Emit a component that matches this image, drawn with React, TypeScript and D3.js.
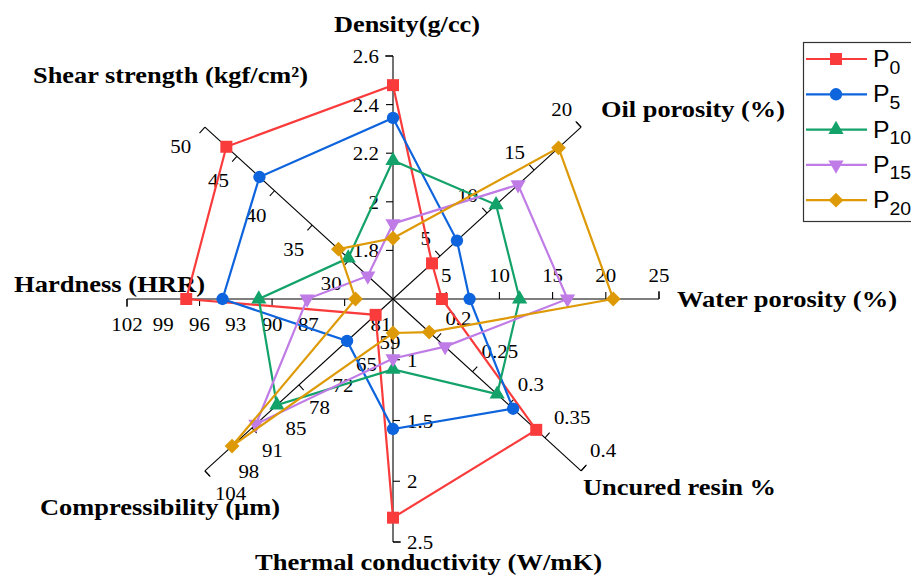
import React from 'react';
import * as d3 from 'd3';

// ---- data (order of series: P0, P5, P10, P15, P20) ----
const seriesSubs = ['0', '5', '10', '15', '20'];
const seriesColors = ['#F93B3B', '#0E64DC', '#13A26A', '#C07CE6', '#DE9A06'];
const seriesShapes = ['square', 'circle', 'triUp', 'triDown', 'diamond'];

const density = [2.48, 2.345, 2.17, 1.91, 1.85];
const oilPorosity = [4.15, 6.8, 10.96, 13.3, 17.6];
const waterPorosity = [4.6, 7.2, 11.9, 16.4, 20.7];
const uncuredResin = [0.338, 0.306, 0.284, 0.212, 0.19];
const thermalConductivity = [2.3, 1.57, 1.08, 0.99, 0.78];
const compressibility = [56.8, 64.7, 84.1, 89.9, 96.5];
const hardness = [97.1, 94.1, 91.1, 87.1, 83.1];
const shearStrength = [46.4, 42.0, 30.2, 27.6, 31.5];

const axisTitles = [
  'Density(g/cc)',
  'Oil porosity (%)',
  'Water porosity (%)',
  'Uncured resin %',
  'Thermal conductivity (W/mK)',
  'Compressibility (µm)',
  'Hardness (HRR)',
  'Shear strength (kgf/cm²)',
];
const axisDomains: [number, number][] = [
  [1.6, 2.6], [0, 20], [0, 25], [0.14, 0.4], [0.5, 2.5], [52, 104], [80, 102], [24.25, 49.25],
];
const axisTicks = [
  [1.8, 2, 2.2, 2.4, 2.6],
  [5, 10, 15, 20],
  [5, 10, 15, 20, 25],
  [0.2, 0.25, 0.3, 0.35, 0.4],
  [1, 1.5, 2, 2.5],
  [65, 78, 91, 104],
  [84, 90, 96, 102],
  [30, 35, 40, 45],
];
const labelValues = [
  [1.8, 2, 2.2, 2.4, 2.6],
  [5, 10, 15, 20],
  [5, 10, 15, 20, 25],
  [0.2, 0.25, 0.3, 0.35, 0.4],
  [1, 1.5, 2, 2.5],
  [58.5, 65, 71.5, 78, 84.5, 91, 97.5, 104],
  [81, 87, 90, 93, 96, 99, 102],
  [30, 35, 40, 45, 50],
];
const labelTexts = [
  ['1.8', '2', '2.2', '2.4', '2.6'],
  ['5', '10', '15', '20'],
  ['5', '10', '15', '20', '25'],
  ['0.2', '0.25', '0.3', '0.35', '0.4'],
  ['1', '1.5', '2', '2.5'],
  ['59', '65', '72', '78', '85', '91', '98', '104'],
  ['81', '87', '90', '93', '96', '99', '102'],
  ['30', '35', '40', '45', '50'],
];

// ---- layout ----
const W = 911, H = 576;
const cx = 393, cy = 299, rx = 266, ry = 243;
const angles = [-90, -45, 0, 45, 90, 135, 180, -135];
const titlePos = [
  { x: 334, y: 32, w: 146 },
  { x: 601, y: 117, w: 184 },
  { x: 677, y: 307, w: 220 },
  { x: 583, y: 495, w: 193 },
  { x: 255, y: 570, w: 347 },
  { x: 40, y: 515, w: 240 },
  { x: 14, y: 292, w: 191 },
  { x: 33, y: 83, w: 275 },
];
// label placement per axis: anchor, dx, dy
const labelPlace: [string, number, number][] = [
  ['end', -14, 7],
  ['end', -9, -11],
  ['middle', 0, -17],
  ['start', 9, -14],
  ['start', 14, 7],
  ['start', 10, 29],
  ['middle', 0, 32],
  ['end', -8, 31],
];

const serif = '"Liberation Serif", "Times New Roman", serif';
const sans = '"Liberation Sans", Arial, sans-serif';

const scales = axisDomains.map((d) => d3.scaleLinear().domain(d).range([0, 1]));
const dirs = angles.map((a) => {
  const r = (a * Math.PI) / 180;
  const ux = Math.cos(r) * rx, uy = Math.sin(r) * ry;
  const len = Math.hypot(ux, uy);
  return { ux, uy, dx: ux / len, dy: uy / len };
});
function pt(axis: number, v: number) {
  const f = scales[axis](v);
  return [cx + f * dirs[axis].ux, cy + f * dirs[axis].uy];
}

const allValues = [density, oilPorosity, waterPorosity, uncuredResin, thermalConductivity, compressibility, hardness, shearStrength];

function symbolPath(shape: string) {
  if (shape === 'square') return d3.symbol(d3.symbolSquare, 144)();
  if (shape === 'circle') return d3.symbol(d3.symbolCircle, 120)();
  if (shape === 'triUp' || shape === 'triDown') return d3.symbol(d3.symbolTriangle, 100)();
  return d3.symbol(d3.symbolSquare, 110)();
}
function symbolRotate(shape: string) {
  if (shape === 'triDown') return 180;
  if (shape === 'diamond') return 45;
  return 0;
}

export default function App() {
  const line = d3.line<[number, number]>().x((d) => d[0]).y((d) => d[1]).curve(d3.curveLinearClosed);
  return (
    <svg width={W} height={H} style={{ position: 'absolute', left: 0, top: 0, background: '#fff' }}>
      <rect x={0} y={0} width={W} height={H} fill="#fff" />
      {/* axes */}
      {dirs.map((d, i) => {
        const nx = d.dy, ny = -d.dx;
        const end = [cx + d.ux, cy + d.uy];
        return (
          <g key={'ax' + i}>
            <line x1={cx} y1={cy} x2={end[0]} y2={end[1]} stroke="#000" strokeWidth={1.1} />
            <line x1={end[0]} y1={end[1]} x2={end[0] + nx * 8} y2={end[1] + ny * 8} stroke="#000" strokeWidth={1.1} />
            {axisTicks[i].map((t, j) => {
              const p = pt(i, t);
              return <line key={j} x1={p[0]} y1={p[1]} x2={p[0] + nx * 7} y2={p[1] + ny * 7} stroke="#000" strokeWidth={1.1} />;
            })}
            {labelValues[i].map((v, j) => {
              const p = pt(i, v);
              const [anchor, ox, oy] = labelPlace[i];
              return (
                <text key={'l' + j} transform={`translate(${p[0] + ox},${p[1] + oy}) scale(1.1,1)`} textAnchor={anchor}
                  fontFamily={serif} fontSize={19} fill="#000">{labelTexts[i][j]}</text>
              );
            })}
            <text x={titlePos[i].x} y={titlePos[i].y} textLength={titlePos[i].w} lengthAdjust="spacingAndGlyphs"
              fontFamily={serif} fontWeight="bold" fontSize={23} fill="#000">{axisTitles[i]}</text>
          </g>
        );
      })}
      {/* series */}
      {seriesSubs.map((s, k) => {
        const pts = allValues.map((arr, i) => pt(i, arr[k]) as [number, number]);
        return (
          <g key={'s' + k}>
            <path d={line(pts) || ''} fill="none" stroke={seriesColors[k]} strokeWidth={2.2} />
            {pts.map((p, i) => (
              <path key={i} d={symbolPath(seriesShapes[k]) || ''} transform={`translate(${p[0]},${p[1]}) rotate(${symbolRotate(seriesShapes[k])})`}
                fill={seriesColors[k]} />
            ))}
          </g>
        );
      })}
      {/* legend */}
      <rect x={803.5} y={42.5} width={120} height={179} fill="#fff" stroke="#333" strokeWidth={1.2} />
      {seriesSubs.map((s, k) => {
        const y = 59 + k * 35.3;
        return (
          <g key={'lg' + k}>
            <line x1={806} y1={y} x2={867} y2={y} stroke={seriesColors[k]} strokeWidth={2.2} />
            <path d={symbolPath(seriesShapes[k]) || ''} transform={`translate(836,${y}) rotate(${symbolRotate(seriesShapes[k])})`} fill={seriesColors[k]} />
            <text transform={`translate(873,${y + 8}) scale(1.08,1)`} fontFamily={sans} fontSize={23} fill="#000">
              P<tspan fontSize={18} dy={6.5}>{s}</tspan>
            </text>
          </g>
        );
      })}
    </svg>
  );
}
